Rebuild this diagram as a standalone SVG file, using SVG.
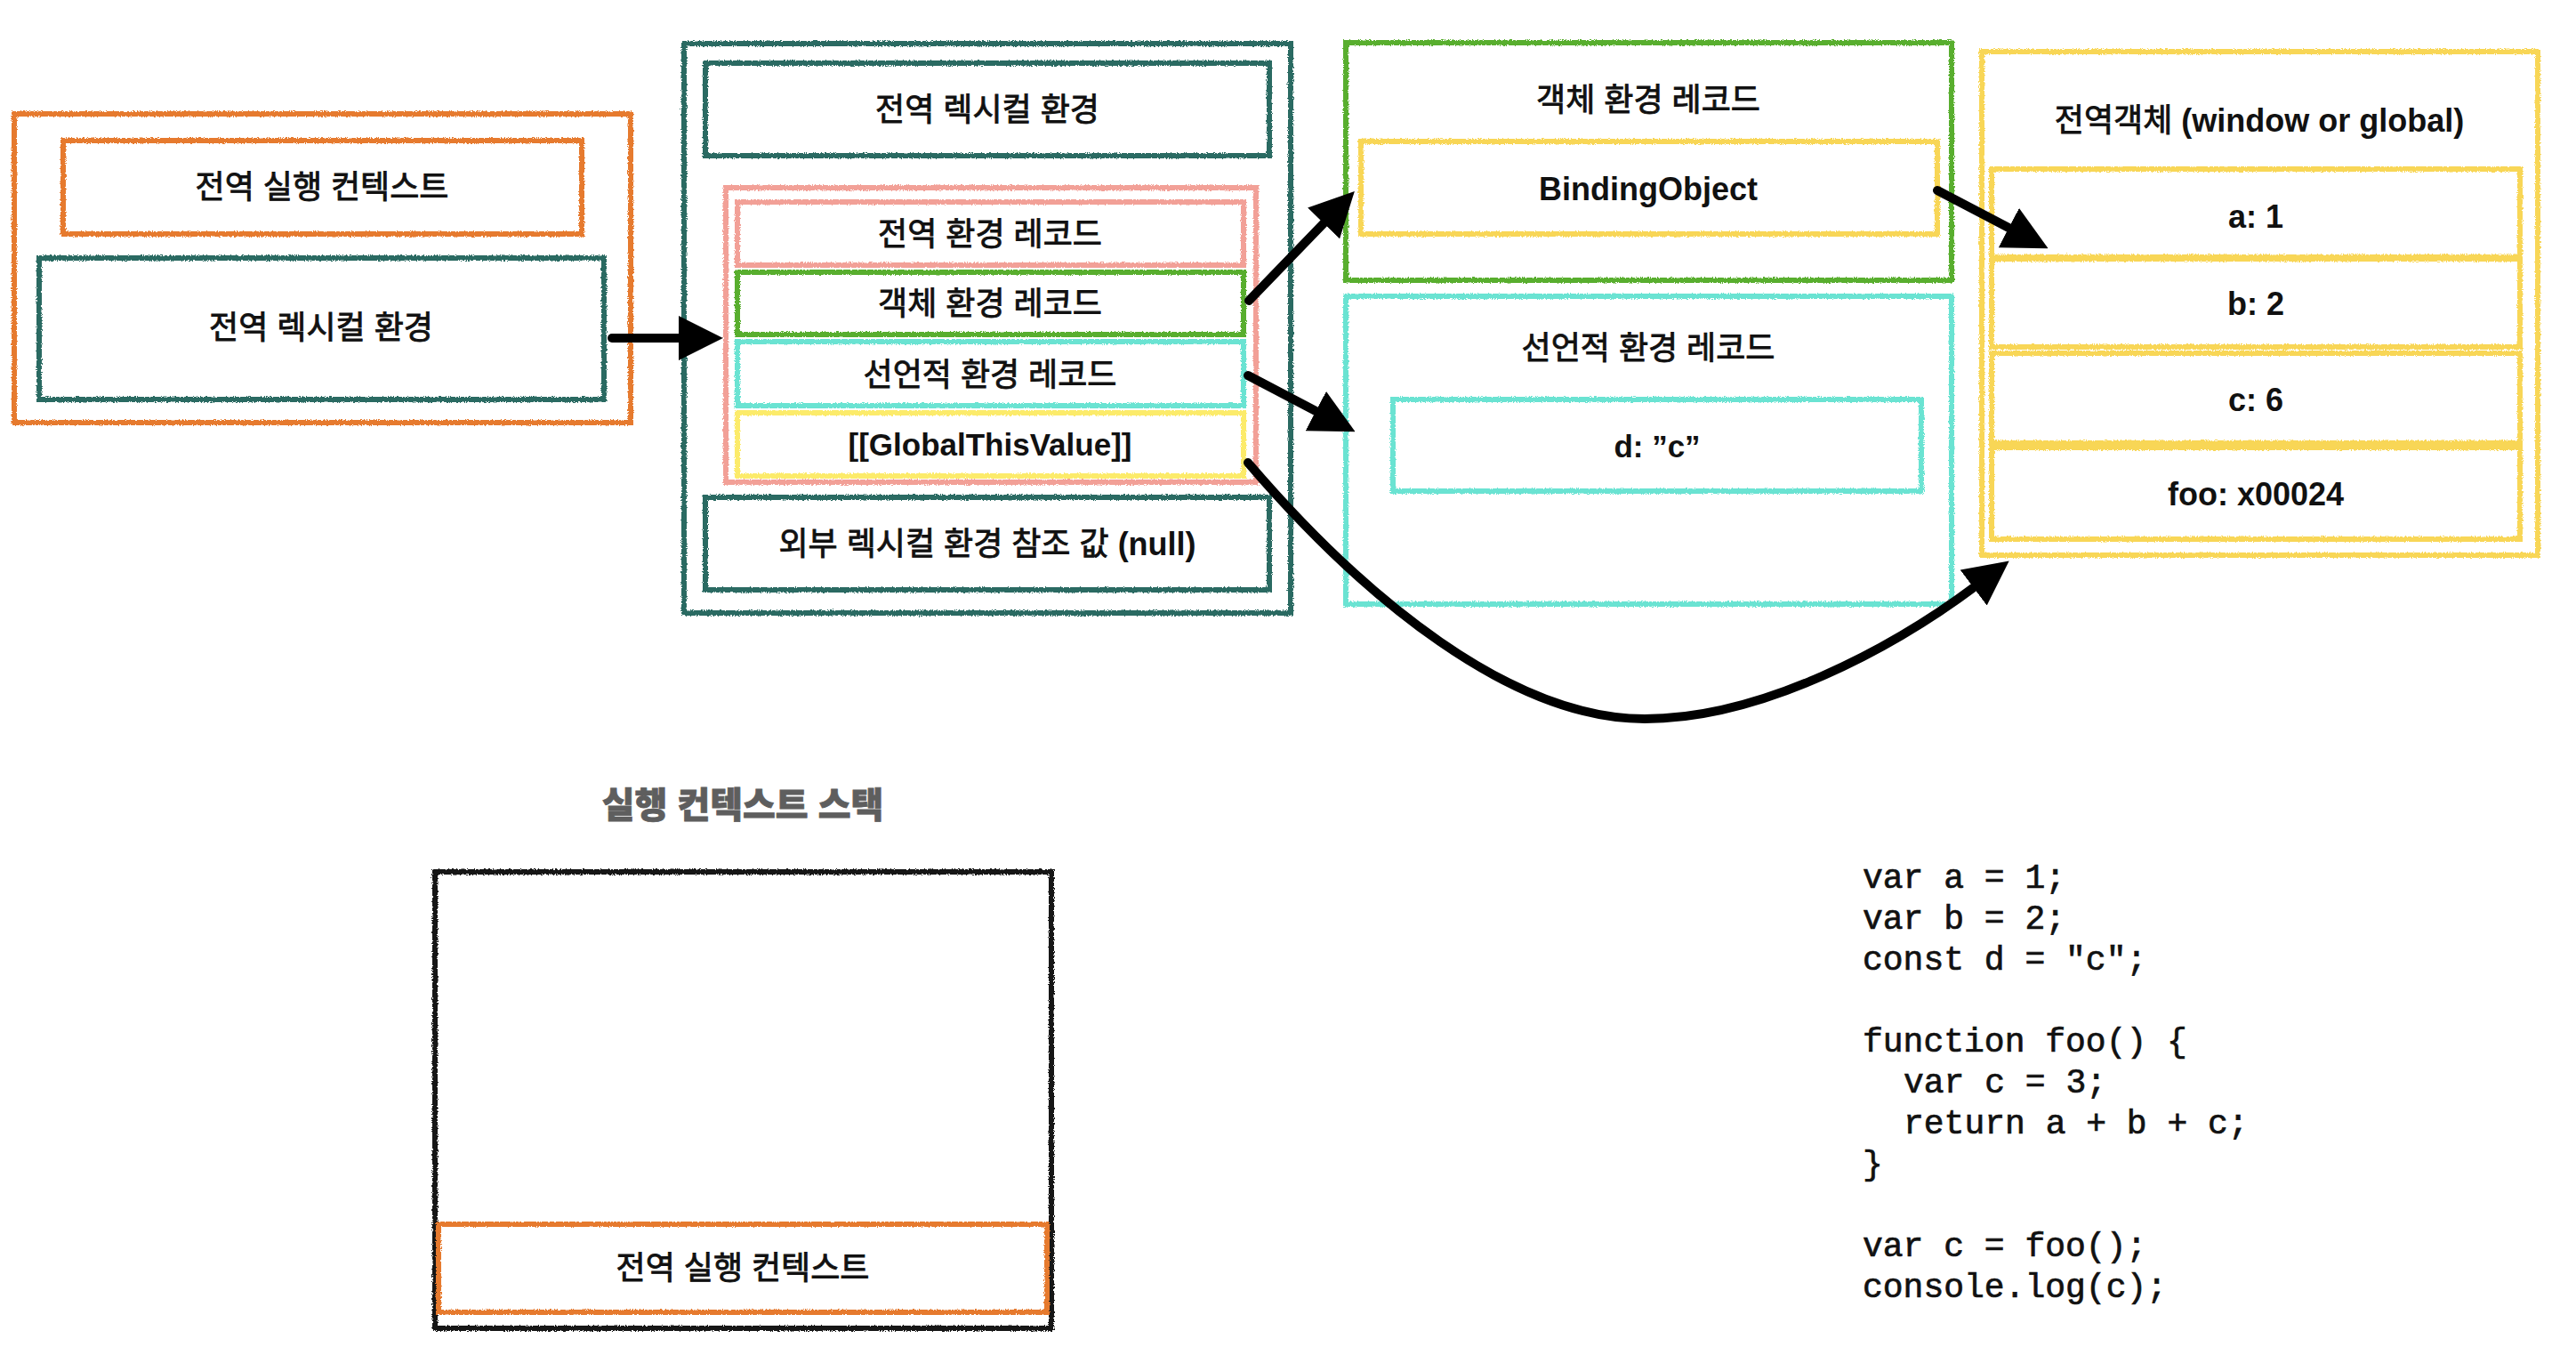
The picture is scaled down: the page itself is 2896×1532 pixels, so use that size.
<svg xmlns="http://www.w3.org/2000/svg" width="2896" height="1532" viewBox="0 0 2896 1532">
<defs>
<filter id="rough" x="-3%" y="-3%" width="106%" height="106%">
<feTurbulence type="fractalNoise" baseFrequency="0.9" numOctaves="2" seed="3" result="n"/>
<feDisplacementMap in="SourceGraphic" in2="n" scale="4" xChannelSelector="R" yChannelSelector="G"/>
</filter>
<marker id="ah" markerUnits="userSpaceOnUse" markerWidth="50" markerHeight="50" viewBox="0 0 48 48" refX="4" refY="24" orient="auto">
<path d="M0,0 L48,24 L0,48 Z" fill="#000"/>
</marker>
<style>
rect{fill:none;stroke-width:6;filter:url(#rough)}
.or{stroke:#E67A2E}
.dt{stroke:#2B6A62}
.sa{stroke:#F2A097}
.gr{stroke:#58AE2E}
.cy{stroke:#6BE3D2}
.yb{stroke:#FCEB6B}
.go{stroke:#F8D657}
.bk{stroke:#151515}
text{font-family:"Liberation Sans","Noto Sans CJK KR",sans-serif;font-size:36px;text-anchor:middle;fill:#111}
.ko{font-weight:400;stroke:#111;stroke-width:0.9px}
.la{font-weight:700;stroke:none}
.ttl{font-size:40px;font-weight:800;fill:#5E5E5E;stroke:#5E5E5E;stroke-width:0.8px}
.code{font-family:"Liberation Mono",monospace;font-size:38px;text-anchor:start;fill:#111;stroke:#111;stroke-width:0.7px}
.arr{fill:none;stroke:#000;stroke-width:10;stroke-linecap:round;marker-end:url(#ah)}
</style>
</defs>
<rect x="0" y="0" width="2896" height="1532" style="fill:#fff;stroke:none;filter:none"/>

<g id="exec-context">
<rect class="or" x="16" y="128" width="693" height="347"/>
<g id="exec-context-label">
<rect class="or" x="71" y="158" width="583" height="105"/>
<text class="ko" x="362" y="223">전역 실행 컨텍스트</text>
</g>
<g id="exec-lex-env">
<rect class="dt" x="44" y="290" width="635" height="159"/>
<text class="ko" x="361" y="381">전역 렉시컬 환경</text>
</g>
</g>

<g id="global-lex-env">
<rect class="dt" x="769" y="49" width="682" height="640"/>
<g id="lex-env-title">
<rect class="dt" x="793" y="71" width="634" height="104"/>
<text class="ko" x="1110" y="136">전역 렉시컬 환경</text>
</g>
<g id="env-record">
<rect class="sa" x="816" y="211" width="596" height="331"/>
<g id="global-env-record">
<rect class="sa" x="829" y="227" width="569" height="71"/>
<text class="ko" x="1113" y="276">전역 환경 레코드</text>
</g>
<g id="object-env-record-slot">
<rect class="gr" x="829" y="306" width="569" height="70"/>
<text class="ko" x="1113" y="354">객체 환경 레코드</text>
</g>
<g id="decl-env-record-slot">
<rect class="cy" x="829" y="384" width="569" height="72"/>
<text class="ko" x="1113" y="434">선언적 환경 레코드</text>
</g>
<g id="global-this-slot">
<rect class="yb" x="829" y="464" width="569" height="71"/>
<text class="la" x="1113" y="512" style="font-size:35px">[[GlobalThisValue]]</text>
</g>
</g>
<g id="outer-ref">
<rect class="dt" x="793" y="559" width="634" height="104"/>
<text class="ko" x="1110" y="624">외부 렉시컬 환경 참조 값 <tspan class="la">(null)</tspan></text>
</g>
</g>

<g id="object-env-record">
<rect class="gr" x="1513" y="48" width="681" height="267"/>
<text class="ko" x="1853" y="125">객체 환경 레코드</text>
<g id="binding-object">
<rect class="go" x="1530" y="159" width="648" height="104"/>
<text class="la" x="1853" y="225">BindingObject</text>
</g>
</g>

<g id="decl-env-record">
<rect class="cy" x="1513" y="333" width="681" height="346"/>
<text class="ko" x="1853" y="404">선언적 환경 레코드</text>
<g id="decl-d">
<rect class="cy" x="1566" y="449" width="594" height="103"/>
<text class="la" x="1863" y="514" style="font-size:35px">d: ”c”</text>
</g>
</g>

<g id="global-object">
<rect class="go" x="2228" y="58" width="625" height="566"/>
<text class="ko" x="2540" y="148">전역객체 <tspan class="la">(window or global)</tspan></text>
<g id="prop-a">
<rect class="go" x="2239" y="190" width="594" height="99"/>
<text class="la" x="2536" y="256">a: 1</text>
</g>
<g id="prop-b">
<rect class="go" x="2239" y="291" width="594" height="99"/>
<text class="la" x="2536" y="354">b: 2</text>
</g>
<g id="prop-c">
<rect class="go" x="2239" y="397" width="594" height="101"/>
<text class="la" x="2536" y="462">c: 6</text>
</g>
<g id="prop-foo">
<rect class="go" x="2239" y="503" width="594" height="103"/>
<text class="la" x="2536" y="568">foo: x00024</text>
</g>
</g>

<g id="connectors">
<path class="arr" d="M688,380 L767,380"/>
<path class="arr" d="M1404,338 L1491,248"/>
<path class="arr" d="M1403,422 L1483,464"/>
<path class="arr" d="M2178,214 L2262,258"/>
<path class="arr" d="M1403,520 C1533,672 1699,808 1849,808 C1979,808 2126,730 2222,658"/>
</g>

<g id="stack">
<text class="ttl" x="835" y="919">실행 컨텍스트 스택</text>
<rect class="bk" x="489" y="980" width="693" height="513"/>
<g id="stack-global">
<rect class="or" x="493" y="1376" width="684" height="99"/>
<text class="ko" x="835" y="1438">전역 실행 컨텍스트</text>
</g>
</g>

<g id="code">
<text class="code" x="2094" y="998">var a = 1;</text>
<text class="code" x="2094" y="1044">var b = 2;</text>
<text class="code" x="2094" y="1090">const d = "c";</text>
<text class="code" x="2094" y="1182">function foo() {</text>
<text class="code" x="2140" y="1228">var c = 3;</text>
<text class="code" x="2140" y="1274">return a + b + c;</text>
<text class="code" x="2094" y="1320">}</text>
<text class="code" x="2094" y="1412">var c = foo();</text>
<text class="code" x="2094" y="1458">console.log(c);</text>
</g>
</svg>
